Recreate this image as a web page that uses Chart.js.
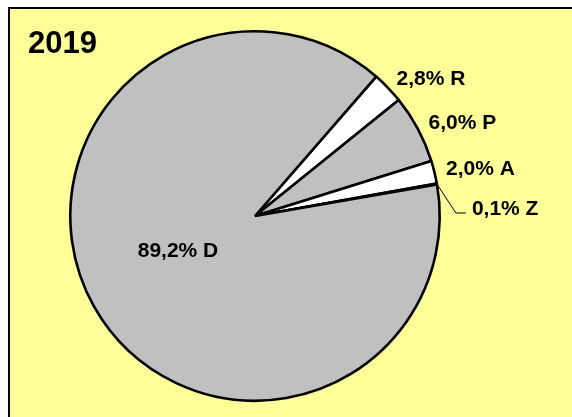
<!DOCTYPE html>
<html>
<head>
<meta charset="utf-8">
<script src="https://cdn.jsdelivr.net/npm/chart.js@4/dist/chart.umd.min.js"></script>
<style>
  html, body { margin: 0; padding: 0; background: #ffffff; width: 572px; height: 417px; overflow: hidden; }
  #frame { position: absolute; left: 8px; top: 7px; width: 600px; height: 450px;
           background: #FFFF99; border-left: 2px solid #000; border-top: 2px solid #000; }
  #c { position: absolute; left: 0; top: 0; }
</style>
</head>
<body>
<div id="frame"></div>
<canvas id="c" width="572" height="417"></canvas>
<script>
const title = "2019";
const categories = ["R", "P", "A", "Z", "D"];
const values = [2.8, 6.0, 2.0, 0.1, 89.2];
const valueLabels = ["2,8%", "6,0%", "2,0%", "0,1%", "89,2%"];
const colors = ["#FFFFFF", "#C0C0C0", "#FFFFFF", "#C0C0C0", "#C0C0C0"];

const FONT = "bold 21px 'Liberation Sans', Arial, sans-serif";

const labelPlugin = {
  id: "pieLabels",
  afterDatasetsDraw(chart) {
    const ctx = chart.ctx;
    const meta = chart.getDatasetMeta(0);
    ctx.save();
    ctx.fillStyle = "#000";
    ctx.strokeStyle = "#000";
    ctx.font = FONT;
    ctx.textAlign = "left";
    ctx.textBaseline = "alphabetic";
    meta.data.forEach((arc, i) => {
      const p = arc.getProps(["x", "y", "startAngle", "endAngle", "outerRadius"], true);
      const mid = (p.startAngle + p.endAngle) / 2;
      const cos = Math.cos(mid), sin = Math.sin(mid);
      const text = valueLabels[i] + " " + categories[i];
      if (values[i] > 50) {
        const r = p.outerRadius * 0.46;
        ctx.textAlign = "center";
        ctx.fillText(text, p.x + cos * r - 3, p.y + sin * r - 1);
        ctx.textAlign = "left";
      } else if (values[i] < 1) {
        const x0 = p.x + cos * p.outerRadius, y0 = p.y + sin * p.outerRadius;
        const x1 = x0 + 19, y1 = y0 + 29;
        const x2 = x1 + 10;
        ctx.lineWidth = 1;
        ctx.beginPath();
        ctx.moveTo(x0, y0); ctx.lineTo(x1, y1); ctx.lineTo(x2, y1);
        ctx.stroke();
        ctx.fillText(text, x2 + 6, y1 + 2);
      } else {
        const r = p.outerRadius + 12;
        ctx.fillText(text, p.x + cos * r, p.y + sin * r + 6);
      }
    });
    ctx.font = "bold 31px 'Liberation Sans', Arial, sans-serif";
    ctx.fillText(title, 28, 53);
    ctx.restore();
  }
};

new Chart(document.getElementById("c"), {
  type: "pie",
  data: {
    labels: categories,
    datasets: [{
      data: values,
      backgroundColor: colors,
      borderColor: "#000000",
      borderWidth: 2.6,
      hoverOffset: 0
    }]
  },
  options: {
    responsive: false,
    animation: false,
    rotation: 41,
    layout: { padding: { left: 69, top: 30, right: 131, bottom: 15 } },
    plugins: {
      legend: { display: false },
      tooltip: { enabled: false },
      title: { display: false }
    },
    events: []
  },
  plugins: [labelPlugin]
});
</script>
</body>
</html>
